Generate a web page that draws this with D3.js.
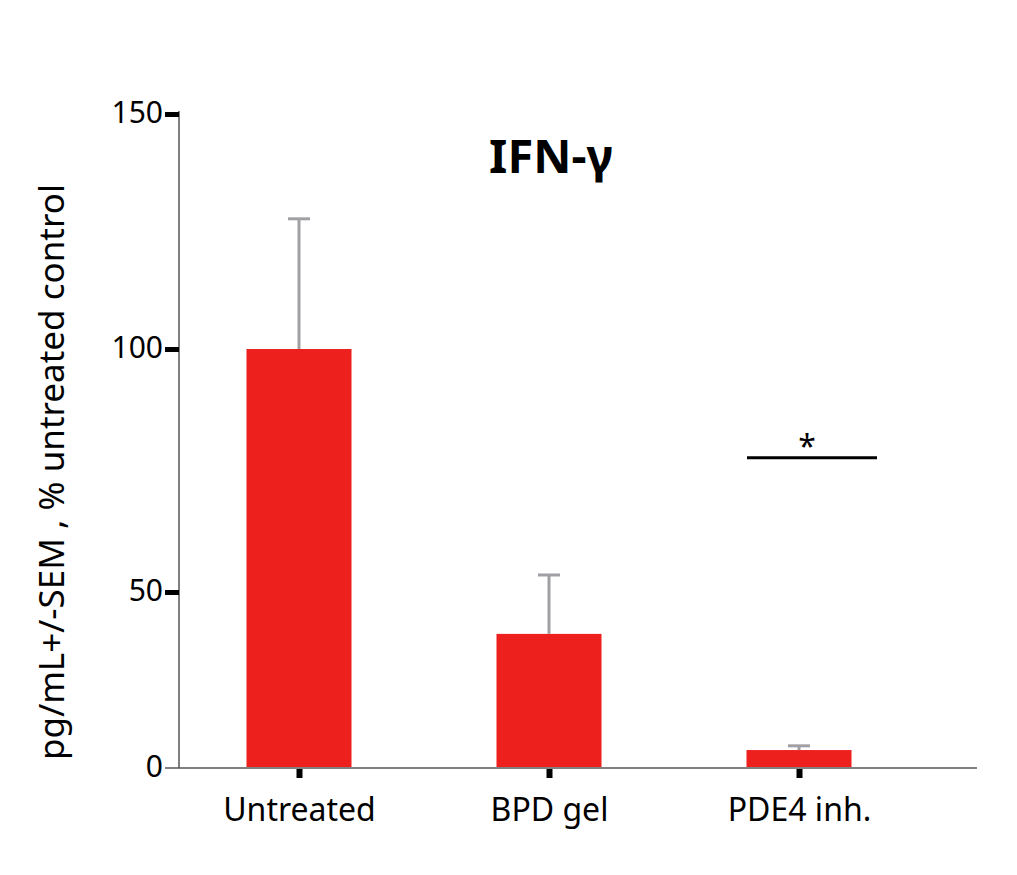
<!DOCTYPE html>
<html>
<head>
<meta charset="utf-8">
<script src="https://cdn.jsdelivr.net/npm/d3@7"></script>
<style>
  html, body { margin: 0; padding: 0; background: #fff; }
  svg { display: block; font-family: "Noto Sans", "Open Sans", sans-serif; }
</style>
</head>
<body>
<svg id="chart" width="1017" height="875"></svg>
<script>
// ---- data ----
const categories = ["Untreated", "BPD gel", "PDE4 inh."];
const means = [100, 38.1, 5.1];
const sem = [27.7, 15.4, 1.2];
const yTickValues = [0, 50, 100, 150];
const yTickLabels = ["0", "50", "100", "150"];
const sigLabel = "*";
const sigCategory = "PDE4 inh.";
const sigValue = 77.6;
const titleText = "IFN-γ";
const yAxisTitle = "pg/mL+/-SEM , % untreated control";

// ---- layout ----
const svg = d3.select("#chart");
const axisX = 179, baseY = 768, rightX = 977;

// y scale (piecewise, matching the reference's axis spacing)
const y = d3.scaleLinear().domain([0, 50, 100, 150]).range([768, 592, 349, 114]);
const x = d3.scalePoint().domain(categories).range([299, 799]);
const barW = 105;

const red = "#ee201d";
const errGrey = "#a0a0a4";
const axisGrey = "#808080";

// bars
svg.append("g").selectAll("rect").data(categories).join("rect")
  .attr("x", d => x(d) - barW / 2)
  .attr("y", (d, i) => y(means[i]))
  .attr("width", barW)
  .attr("height", (d, i) => y(0) - y(means[i]))
  .attr("fill", red);

// error bars (upper only)
const eg = svg.append("g").attr("stroke", errGrey).attr("stroke-width", 3);
categories.forEach((c, i) => {
  eg.append("line").attr("x1", x(c)).attr("x2", x(c))
    .attr("y1", y(means[i])).attr("y2", y(means[i] + sem[i]));
  eg.append("line").attr("x1", x(c) - 11).attr("x2", x(c) + 11)
    .attr("y1", y(means[i] + sem[i])).attr("y2", y(means[i] + sem[i]));
});

// x axis line
svg.append("line").attr("x1", 165).attr("x2", rightX)
  .attr("y1", baseY).attr("y2", baseY)
  .attr("stroke", axisGrey).attr("stroke-width", 2);

// y axis line
svg.append("line").attr("x1", axisX).attr("x2", axisX)
  .attr("y1", y(150) - 3).attr("y2", baseY)
  .attr("stroke", "#555").attr("stroke-width", 1.5);

// y axis ticks & labels
const yAxis = d3.axisLeft(y).tickValues(yTickValues)
  .tickFormat((d, i) => yTickLabels[i]).tickSize(0).tickPadding(16);
const yg = svg.append("g").attr("transform", `translate(${axisX},0)`).call(yAxis);
yg.select(".domain").remove();
yg.selectAll("text").attr("font-size", 30).attr("fill", "#000")
  .attr("font-family", "'Noto Sans', sans-serif").attr("dy", "0.28em");
yg.selectAll(".tick").filter(d => d !== 0).append("line")
  .attr("x1", -14).attr("x2", 0).attr("stroke", "#000").attr("stroke-width", 5);

// x axis ticks & labels
const xAxis = d3.axisBottom(x).tickSize(0).tickPadding(30);
const xg = svg.append("g").attr("transform", `translate(0,${baseY})`).call(xAxis);
xg.select(".domain").remove();
xg.selectAll("text").attr("font-size", 32).attr("fill", "#000")
  .attr("font-family", "'Noto Sans', sans-serif");
xg.selectAll(".tick").append("line")
  .attr("y1", 1).attr("y2", 10).attr("stroke", "#000").attr("stroke-width", 6);

// significance
const sx = x(sigCategory);
svg.append("line").attr("x1", sx - 52).attr("x2", sx + 78)
  .attr("y1", y(sigValue)).attr("y2", y(sigValue))
  .attr("stroke", "#000").attr("stroke-width", 3);
svg.append("text").attr("x", sx + 8).attr("y", y(sigValue))
  .attr("text-anchor", "middle").attr("font-size", 32).text(sigLabel);

// title
svg.append("text").attr("x", 551).attr("y", 173)
  .attr("text-anchor", "middle").attr("font-size", 47).attr("font-weight", "bold")
  .text(titleText);

// y axis title
svg.append("text").attr("transform", `translate(64,472) rotate(-90)`)
  .attr("text-anchor", "middle").attr("font-size", 35).text(yAxisTitle);
</script>
</body>
</html>
